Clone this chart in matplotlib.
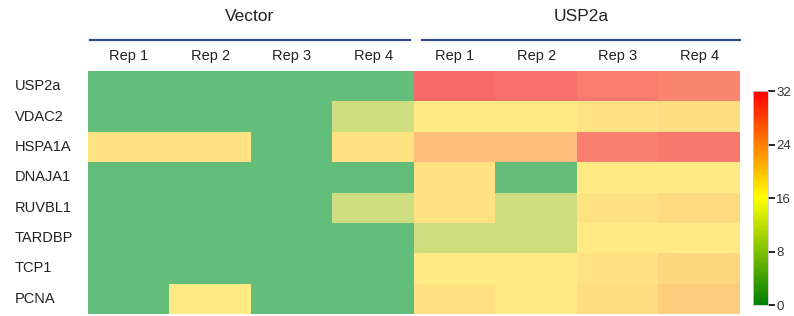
import numpy as np
import matplotlib
matplotlib.use("Agg")
import matplotlib.pyplot as plt
import matplotlib.transforms as mtransforms
from matplotlib.colors import LinearSegmentedColormap, Normalize
from matplotlib.cm import ScalarMappable

plt.rcParams['font.family'] = ['Liberation Sans', 'DejaVu Sans']

genes = ["USP2a", "VDAC2", "HSPA1A", "DNAJA1", "RUVBL1", "TARDBP", "TCP1", "PCNA"]
groups = ["Vector", "USP2a"]
reps = ["Rep 1", "Rep 2", "Rep 3", "Rep 4"]

# values per gene: Vector rep1-4
vector_vals = [
    [0, 0, 0, 0],
    [0, 0, 0, 11],
    [17, 17, 0, 17],
    [0, 0, 0, 0],
    [0, 0, 0, 11],
    [0, 0, 0, 0],
    [0, 0, 0, 0],
    [0, 16, 0, 0],
]
# USP2a rep1-4
usp2a_vals = [
    [32, 31, 29.5, 28.5],
    [16, 16, 17, 17.5],
    [21.5, 21.5, 29, 30],
    [17, 0.3, 16, 16],
    [17, 11, 17, 18],
    [11, 11, 16, 16],
    [16, 16, 17, 18.5],
    [17, 16, 17.5, 19.5],
]
cbar_ticks = [0, 8, 16, 24, 32]

data = np.hstack([np.array(vector_vals), np.array(usp2a_vals)])

# cells use the soft green-yellow-red scale, the legend bar the saturated one
cell_cmap = LinearSegmentedColormap.from_list("cells", ["#63BE7B", "#FFEB84", "#F8696B"])
bar_cmap = LinearSegmentedColormap.from_list("bar", ["#008000", "#FFFF00", "#FF0000"])
norm = Normalize(vmin=0, vmax=32)

fig = plt.figure(figsize=(7.94, 3.16), dpi=100)
ax = fig.add_axes([0.1108, 0.0063, 0.821, 0.769])
ax.pcolormesh(data, cmap=cell_cmap, norm=norm, edgecolors="none")
ax.set_xlim(0, data.shape[1])
ax.set_ylim(data.shape[0], 0)
for s in ax.spines.values():
    s.set_visible(False)

# column labels on top
ax.xaxis.tick_top()
ax.set_xticks(np.arange(data.shape[1]) + 0.5)
ax.set_xticklabels(reps * 2, fontsize=10.5, color="#222222")
ax.tick_params(axis="x", length=0, pad=6)

# row labels, left aligned near figure edge
ax.set_yticks([])
trans = mtransforms.blended_transform_factory(fig.transFigure, ax.transData)
for i, g in enumerate(genes):
    ax.text(15 / 794, i + 0.5, g, transform=trans, ha="left", va="center",
            fontsize=10.5, color="#222222")

# group headers with underline
line_spans = [(0.02, 3.95), (4.1, 8.0)]
for g, (x0, x1) in zip(groups, line_spans):
    ax.plot([x0, x1], [-1.02, -1.02], color="#2E4A8C", lw=1.6, clip_on=False)
    ax.text((x0 + x1) / 2, -1.78, g, ha="center", va="center", fontsize=12.5, color="#222222")

# colorbar
cax = fig.add_axes([0.948, 0.0348, 0.019, 0.677])
cb = fig.colorbar(ScalarMappable(norm=norm, cmap=bar_cmap), cax=cax, ticks=cbar_ticks)
cb.outline.set_edgecolor("#cccccc")
cb.outline.set_linewidth(0.6)
cax.tick_params(length=5, width=1.2, labelsize=9.5, labelcolor="#333333", pad=1)

fig.savefig("out.png", dpi=100)
